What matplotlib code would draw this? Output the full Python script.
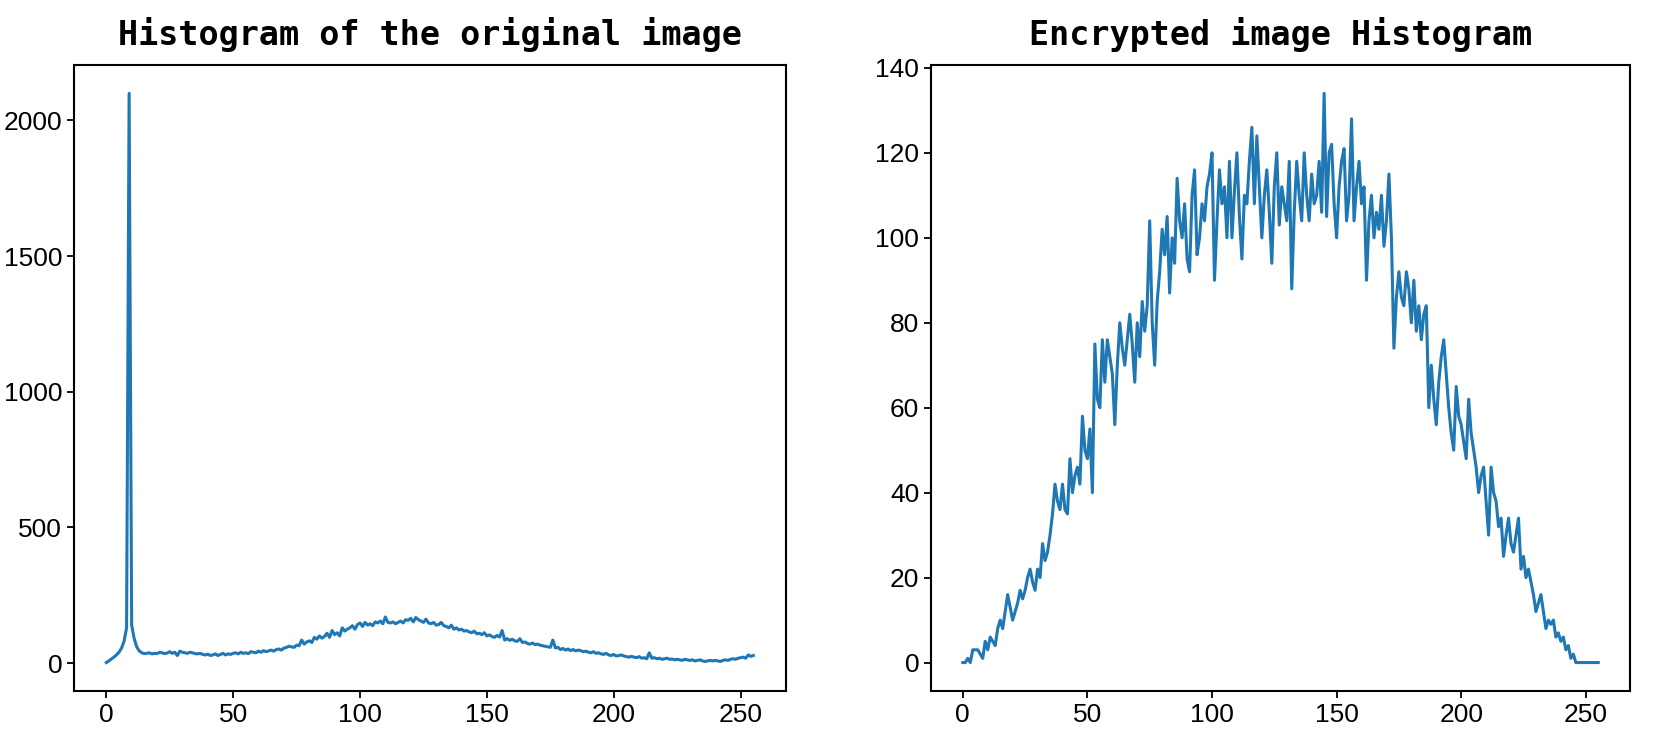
import matplotlib
matplotlib.use("Agg")
import matplotlib.pyplot as plt
import numpy as np

levels = np.arange(256)

original_counts = [
    2, 8, 15, 22, 30, 40, 55, 80, 130, 2100, 140, 90, 60, 45, 38, 35,
    36, 38, 34, 36, 35, 40, 38, 35, 37, 42, 36, 40, 28, 44, 40, 38,
    36, 40, 38, 35, 34, 36, 32, 30, 33, 28, 30, 34, 28, 32, 36, 30,
    34, 32, 36, 38, 34, 40, 36, 38, 35, 42, 40, 38, 44, 40, 46, 42,
    45, 48, 44, 50, 52, 48, 55, 58, 62, 60, 58, 66, 64, 85, 70, 78,
    82, 76, 95, 88, 100, 92, 98, 110, 95, 120, 105, 112, 100, 130, 118, 125,
    130, 138, 125, 142, 148, 135, 150, 140, 145, 138, 152, 148, 155, 145, 170, 150,
    148, 152, 145, 150, 155, 148, 160, 158, 165, 152, 168, 160, 155, 150, 162, 148,
    145, 150, 140, 142, 150, 138, 135, 130, 140, 125, 130, 122, 125, 118, 120, 115,
    112, 118, 108, 110, 105, 112, 100, 104, 98, 95, 102, 96, 120, 85, 90, 84,
    88, 82, 80, 90, 76, 78, 72, 70, 74, 68, 70, 66, 64, 62, 60, 58,
    85, 56, 58, 50, 54, 48, 52, 46, 50, 45, 48, 46, 42, 44, 40, 38,
    42, 36, 38, 34, 32, 36, 30, 28, 32, 26, 28, 30, 26, 24, 22, 25,
    22, 20, 24, 18, 20, 16, 38, 18, 20, 16, 18, 14, 16, 18, 14, 15,
    12, 14, 12, 10, 14, 12, 10, 12, 8, 10, 12, 8, 6, 8, 10, 8,
    10, 8, 6, 10, 12, 10, 14, 16, 14, 18, 20, 22, 18, 30, 25, 28,
]

encrypted_counts = [
    0, 0, 1, 0, 3, 3, 3, 2, 1, 5, 3, 6, 5, 4, 8, 10,
    8, 12, 16, 13, 10, 12, 14, 17, 15, 17, 20, 22, 19, 17, 22, 20,
    28, 24, 26, 30, 35, 42, 38, 36, 42, 36, 35, 48, 40, 44, 46, 42,
    58, 50, 48, 55, 40, 75, 62, 60, 76, 66, 76, 72, 68, 56, 70, 80,
    74, 70, 76, 82, 75, 66, 80, 72, 85, 78, 84, 104, 80, 70, 85, 92,
    102, 96, 105, 87, 100, 94, 114, 104, 100, 108, 95, 92, 110, 116, 96, 100,
    108, 104, 112, 115, 120, 90, 104, 116, 108, 112, 100, 118, 100, 111, 120, 105,
    95, 110, 108, 118, 126, 108, 124, 112, 100, 110, 116, 106, 94, 112, 120, 103,
    112, 108, 104, 118, 88, 106, 118, 110, 104, 120, 110, 104, 115, 108, 110, 118,
    106, 134, 105, 120, 122, 108, 100, 112, 118, 121, 104, 110, 128, 104, 112, 118,
    108, 112, 90, 104, 110, 100, 106, 102, 110, 98, 104, 115, 100, 74, 86, 92,
    86, 84, 92, 88, 80, 90, 78, 84, 76, 82, 84, 60, 70, 62, 56, 66,
    72, 76, 68, 60, 54, 50, 65, 58, 56, 52, 48, 62, 54, 50, 46, 40,
    44, 46, 38, 30, 46, 40, 38, 32, 34, 25, 30, 34, 28, 26, 30, 34,
    22, 25, 20, 22, 19, 16, 12, 14, 16, 12, 8, 10, 9, 10, 6, 7,
    5, 6, 3, 4, 1, 2, 0, 0, 0, 0, 0, 0, 0, 0, 0, 0,
]

titles = ["Histogram of the original image", "Encrypted image Histogram"]
x_ticks = [0, 50, 100, 150, 200, 250]
y_ticks_left = [0, 500, 1000, 1500, 2000]
y_ticks_right = [0, 20, 40, 60, 80, 100, 120, 140]

tick_font = ["Liberation Sans", "DejaVu Sans"]
title_font = ["DejaVu Sans Mono", "DejaVu Sans"]

fig = plt.figure(figsize=(16.54, 7.46), dpi=100)
ax1 = fig.add_axes([0.0447, 0.0737, 0.4303, 0.8393])
ax2 = fig.add_axes([0.5629, 0.0737, 0.4226, 0.8393])

for ax, data, title, yt in [(ax1, original_counts, titles[0], y_ticks_left),
                            (ax2, encrypted_counts, titles[1], y_ticks_right)]:
    ax.plot(levels, data, color="#1f77b4", linewidth=2.2)
    ax.set_xticks(x_ticks)
    ax.set_yticks(yt)
    ax.set_title(title, fontsize=24, fontfamily=title_font, fontweight="bold", pad=14)
    for lab in ax.get_xticklabels() + ax.get_yticklabels():
        lab.set_fontfamily(tick_font)
        lab.set_fontsize(19)
    ax.tick_params(direction="out", length=5, width=1.3, colors="black")
    for sp in ax.spines.values():
        sp.set_linewidth(1.5)
        sp.set_color("black")

fig.savefig("out.png", dpi=100)
